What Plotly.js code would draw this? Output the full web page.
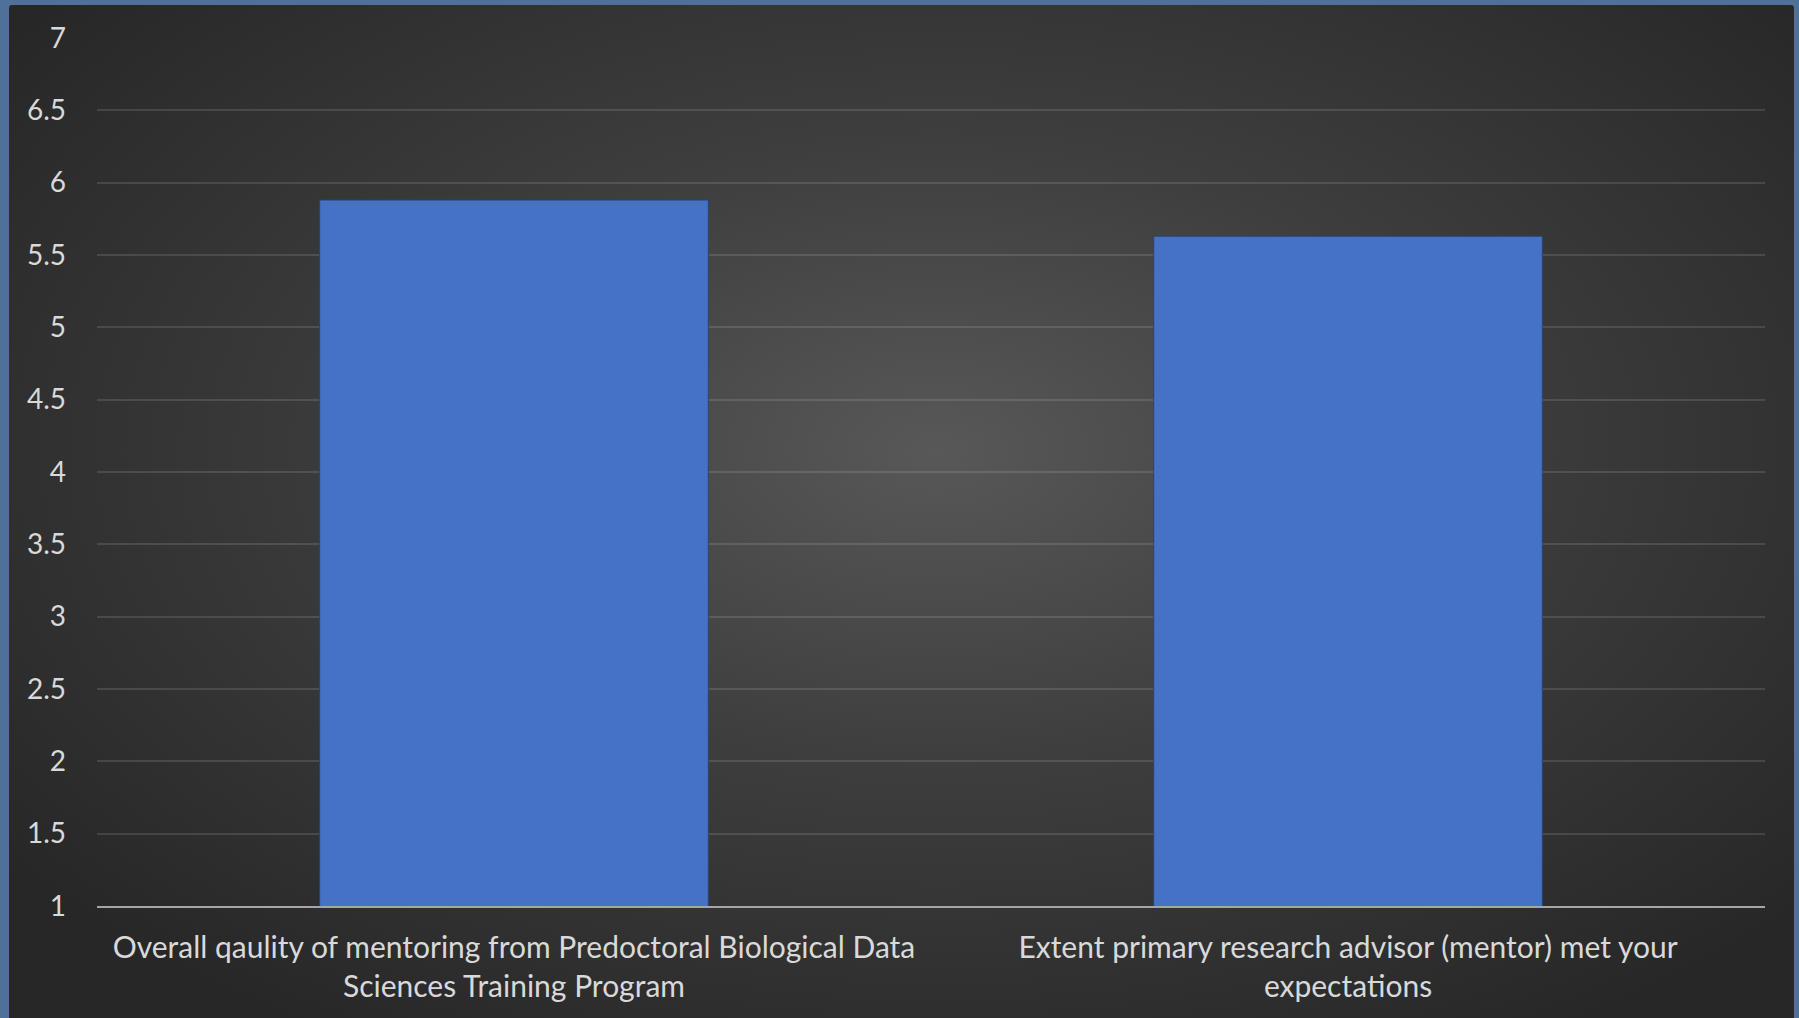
<!DOCTYPE html>
<html>
<head>
<meta charset="utf-8">
<script src="https://cdn.plot.ly/plotly-3.0.1.min.js"></script>
<style>
  html, body { margin: 0; padding: 0; width: 1799px; height: 1018px; overflow: hidden; background: #4F7099; }
  #panel { position: absolute; left: 9px; top: 5px; width: 1785px; height: 1013px;
           background: radial-gradient(ellipse 65% 68% at 52% 44%, #585858 0%, #3e3e3e 45%, #272727 100%);
           border-top-left-radius: 3px; border-top-right-radius: 3px; }
  #chart { position: absolute; left: 0; top: 0; width: 1799px; height: 1018px; }
</style>
</head>
<body>
<div id="panel"></div>
<div id="chart"></div>
<script>
const categories = [
  "Overall qaulity of mentoring from Predoctoral Biological Data<br>Sciences Training Program",
  "Extent primary research advisor (mentor) met your<br>expectations"
];
const values = [5.88, 5.63];
const yTickVals = [1, 1.5, 2, 2.5, 3, 3.5, 4, 4.5, 5, 5.5, 6, 6.5, 7];

const trace = {
  type: 'bar',
  x: categories,
  y: values,
  marker: {
    color: '#4672C6',
    line: { color: '#2B4270', width: 1 }
  },
  hoverinfo: 'x+y'
};

const layout = {
  width: 1799,
  height: 1018,
  margin: { l: 97, r: 34, t: 38, b: 112 },
  paper_bgcolor: 'rgba(0,0,0,0)',
  plot_bgcolor: 'rgba(0,0,0,0)',
  bargap: 0.534,
  showlegend: false,
  font: { family: 'Lato, "Open Sans", sans-serif', color: '#D9D9D9', size: 28 },
  xaxis: {
    type: 'category',
    showgrid: false,
    showline: true,
    linecolor: '#A6A6A6',
    linewidth: 2,
    ticks: '',
    ticklabelstandoff: 14,
    tickfont: { size: 30, color: '#D9D9D9' },
    automargin: false
  },
  yaxis: {
    range: [1, 7],
    tickvals: yTickVals,
    showgrid: true,
    gridcolor: 'rgba(255,255,255,0.12)',
    gridwidth: 2,
    zeroline: false,
    showline: false,
    ticks: '',
    ticklabelstandoff: 30,
    tickfont: { size: 28, color: '#D9D9D9' },
    automargin: false
  }
};

Plotly.newPlot('chart', [trace], layout, { displayModeBar: false, staticPlot: true });
</script>
</body>
</html>
